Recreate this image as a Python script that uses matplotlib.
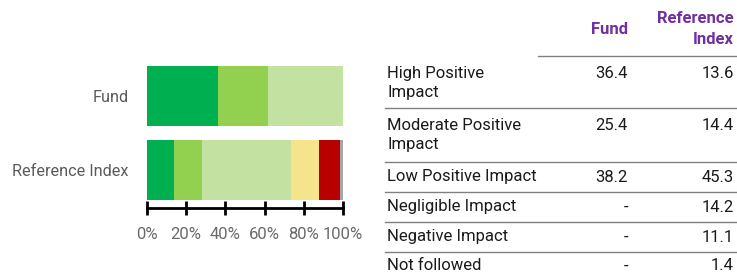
import matplotlib.pyplot as plt
from matplotlib.lines import Line2D

# data
bar_names = ["Reference Index", "Fund"]
categories = ["High Positive\nImpact", "Moderate Positive\nImpact", "Low Positive Impact",
              "Negligible Impact", "Negative Impact", "Not followed"]
fund_vals = [36.4, 25.4, 38.2, 0.0, 0.0, 0.0]
ref_vals = [13.6, 14.4, 45.3, 14.2, 11.1, 1.4]
fund_text = ["36.4", "25.4", "38.2", "-", "-", "-"]
ref_text = ["13.6", "14.4", "45.3", "14.2", "11.1", "1.4"]
col_headers = ["Fund", "Reference\nIndex"]
tick_vals = [0, 20, 40, 60, 80, 100]

colors = ["#00B050", "#92D050", "#C3E1A0", "#F5E48C", "#B80000", "#A6A6A6"]
PURPLE = "#7030A0"

plt.rcParams["font.family"] = ["Roboto", "DejaVu Sans"]

W, H = 737, 274
fig = plt.figure(figsize=(W / 100, H / 100), dpi=100)


def fx(px):
    return px / W


def fy(py):
    return 1 - py / H


# bar chart
ax = fig.add_axes([fx(147), fy(208), fx(343) - fx(147), fy(60) - fy(208)])
left = [0.0, 0.0]
for i, c in enumerate(colors):
    vals = [ref_vals[i], fund_vals[i]]
    ax.barh([0, 1], vals, left=left, height=0.81, color=c, edgecolor="none")
    left = [l + v for l, v in zip(left, vals)]

ax.set_xlim(0, 100)
ax.set_ylim(-0.514, 1.486)
ax.set_yticks([0, 1])
ax.set_yticklabels(bar_names, fontsize=11.7, color="#5a5a5a")
ax.tick_params(axis="y", length=0, pad=13)
ax.set_xticks(tick_vals)
ax.set_xticklabels([f"{v}%" for v in tick_vals], fontsize=12, color="#6a6a6a")
ax.tick_params(axis="x", direction="inout", length=10, width=2, color="black", pad=9)
for s in ["top", "right", "left"]:
    ax.spines[s].set_visible(False)
ax.spines["bottom"].set_linewidth(2)
ax.spines["bottom"].set_color("black")

# table
x_label = 387
x_fund = 628
x_ref = 734
fig.text(fx(x_fund), fy(30), col_headers[0], ha="right", va="center",
         fontsize=12, fontweight="bold", color=PURPLE)
fig.text(fx(x_ref), fy(29), col_headers[1], ha="right", va="center",
         fontsize=12, fontweight="bold", color=PURPLE, linespacing=1.5)

row_y = [83, 135, 177, 207, 237, 266]
line_y = [108, 162, 192, 222, 252]

fig.add_artist(Line2D([fx(538), fx(737)], [fy(56), fy(56)], color="#808080", lw=1))
for ly in line_y:
    fig.add_artist(Line2D([fx(385), fx(737)], [fy(ly), fy(ly)], color="#808080", lw=1))

for cat, ft, rt, ry in zip(categories, fund_text, ref_text, row_y):
    fig.text(fx(x_label), fy(ry), cat, ha="left", va="center", fontsize=12,
             color="#1a1a1a", linespacing=1.4)
    top_y = ry - 10 if "\n" in cat else ry
    fig.text(fx(x_fund), fy(top_y), ft, ha="right", va="center", fontsize=12, color="#1a1a1a")
    fig.text(fx(x_ref), fy(top_y), rt, ha="right", va="center", fontsize=12, color="#1a1a1a")

fig.savefig("out.png", dpi=100)
